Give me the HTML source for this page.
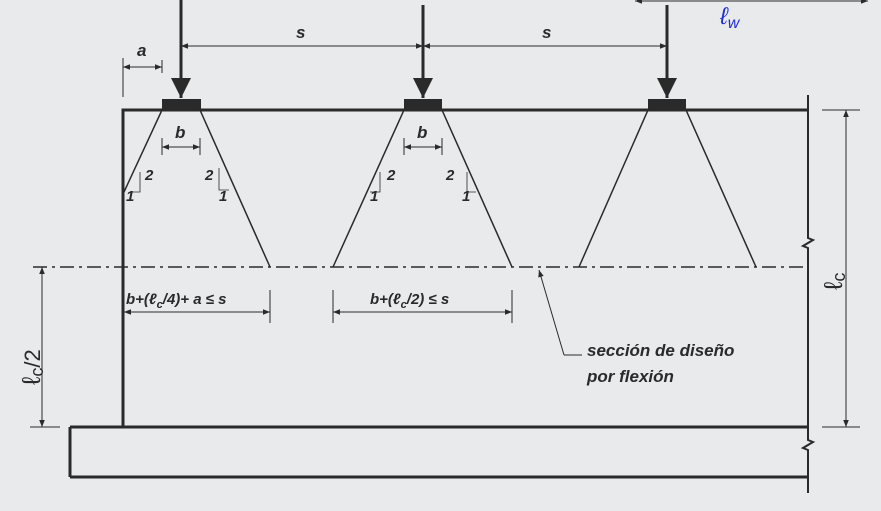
<!DOCTYPE html>
<html><head><meta charset="utf-8"><style>
body{margin:0;background:#e9eaec;}
svg{display:block;font-family:"Liberation Sans",sans-serif;font-weight:bold;font-style:italic;fill:#2a2a2a;}
</style></head><body>
<svg width="881" height="511" viewBox="0 0 881 511">
<defs>
<marker id="ah" viewBox="0 0 10 10" refX="10" refY="5" markerWidth="9" markerHeight="7" orient="auto-start-reverse" markerUnits="userSpaceOnUse"><path d="M0,1L10,5L0,9z" fill="#2a2a2a"/></marker>
<marker id="big" viewBox="0 0 10 10" refX="10" refY="5" markerWidth="30" markerHeight="20" orient="auto" markerUnits="userSpaceOnUse"><path d="M0,0L10,5L0,10z" fill="#2a2a2a"/></marker>
</defs>
<rect width="881" height="511" fill="#e9eaec"/>
<g stroke="#2a2a2a" fill="none">
<path d="M123,427V110H808" stroke-width="3"/>
<path d="M808,95V238l5,2-10,6,5,2V440l5,2-10,6,5,2V493" stroke-width="2"/>
<path d="M70,427H808M70,477H808M70,427V477" stroke-width="3"/>
<path d="M123,97V58M162,73V60" stroke-width="1"/>
</g>
<g fill="#2a2a2a">
<rect x="162" y="99" width="39" height="11"/><rect x="404" y="99" width="38" height="11"/><rect x="648" y="99" width="38" height="11"/>
</g>
<g stroke="#2a2a2a" stroke-width="3">
<line x1="181" y1="0" x2="181" y2="98" marker-end="url(#big)"/>
<line x1="423" y1="5" x2="423" y2="98" marker-end="url(#big)"/>
<line x1="667" y1="5" x2="667" y2="98" marker-end="url(#big)"/>
</g>
<g stroke="#2a2a2a" stroke-width="1.5" fill="none">
<path d="M162,110L124,192M200,110L270,267M404,110L333,267M442,110L512,267M648,110L579,267M686,110L756,267"/>
<path d="M140,172V192H131M380,172V192H370M467,172V192H476M219,168V190H229" stroke-width="0.8"/>
</g>
<line x1="33" y1="267" x2="808" y2="267" stroke="#2a2a2a" stroke-width="1.5" stroke-dasharray="14,5,3,5"/>
<g stroke="#2a2a2a" stroke-width="1" fill="none">
<line x1="181" y1="46" x2="423" y2="46" marker-start="url(#ah)" marker-end="url(#ah)"/>
<line x1="423" y1="46" x2="667" y2="46" marker-start="url(#ah)" marker-end="url(#ah)"/>
<line x1="123" y1="67" x2="162" y2="67" marker-start="url(#ah)" marker-end="url(#ah)"/>
<line x1="162" y1="147" x2="200" y2="147" marker-start="url(#ah)" marker-end="url(#ah)"/>
<line x1="404" y1="147" x2="442" y2="147" marker-start="url(#ah)" marker-end="url(#ah)"/>
<path d="M162,138V155M200,138V155M404,138V155M442,138V155"/>
<line x1="124" y1="312" x2="270" y2="312" marker-start="url(#ah)" marker-end="url(#ah)"/>
<line x1="333" y1="312" x2="512" y2="312" marker-start="url(#ah)" marker-end="url(#ah)"/>
<path d="M270,290V323M333,290V323M512,290V323"/>
<line x1="846" y1="110" x2="846" y2="427" marker-start="url(#ah)" marker-end="url(#ah)"/>
<path d="M822,110H860M822,427H860M30,427H60"/>
<line x1="42" y1="267" x2="42" y2="427" marker-start="url(#ah)" marker-end="url(#ah)"/>
<line x1="635" y1="1" x2="868" y2="1" marker-start="url(#ah)" marker-end="url(#ah)"/>
<path d="M582,355H564" /><line x1="564" y1="355" x2="539" y2="270" marker-end="url(#ah)"/>
</g>
<g font-size="17">
<text x="296" y="38">s</text>
<text x="542" y="38">s</text>
<text x="137" y="56">a</text>
<text x="175" y="138">b</text>
<text x="417" y="138">b</text>
</g>
<g font-size="15">
<text x="145" y="180">2</text><text x="126" y="201">1</text>
<text x="205" y="180">2</text><text x="219" y="201">1</text>
<text x="387" y="180">2</text><text x="370" y="201">1</text>
<text x="446" y="180">2</text><text x="462" y="201">1</text>
<text x="126" y="304">b+(ℓ<tspan font-size="11" dy="4">c</tspan><tspan dy="-4">/4)+ a ≤ s</tspan></text>
<text x="370" y="304">b+(ℓ<tspan font-size="11" dy="4">c</tspan><tspan dy="-4">/2) ≤ s</tspan></text>
</g>
<g font-size="17">
<text x="587" y="356">sección de diseño</text>
<text x="587" y="382">por flexión</text>
<text transform="translate(842,290) rotate(-90)" font-size="26" font-style="normal" font-weight="normal">ℓ<tspan font-size="18" dy="3">c</tspan></text>
<text transform="translate(40,385) rotate(-90)" font-size="26" font-style="normal" font-weight="normal">ℓ<tspan font-size="18" dy="3">c</tspan><tspan dy="-3" font-size="22">/2</tspan></text>
<text x="720" y="24" fill="#2030d0" font-size="24" font-weight="normal">ℓ<tspan font-size="16" dy="4">w</tspan></text>
</g>
</svg>
</body></html>
